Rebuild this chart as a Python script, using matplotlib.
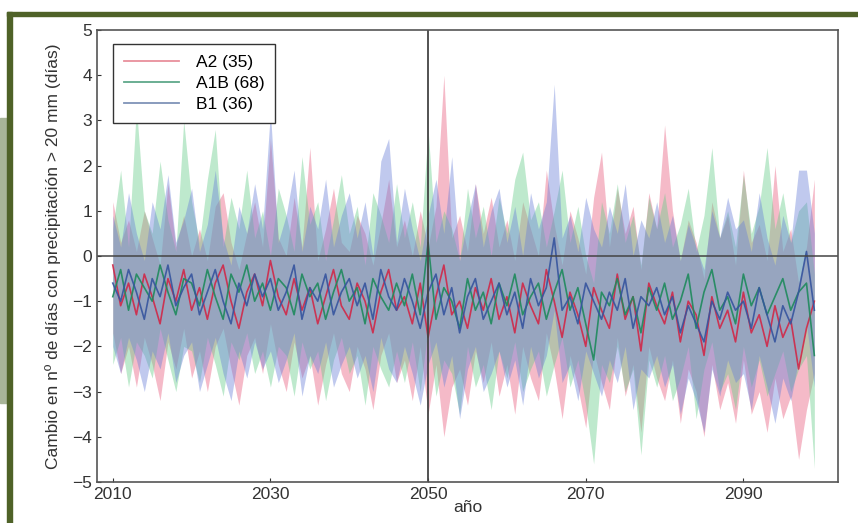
import numpy as np
import matplotlib.pyplot as plt
from matplotlib.patches import Rectangle

plt.rcParams['font.family'] = ['Liberation Sans', 'DejaVu Sans']

years = np.arange(2010, 2100)

labels = ['A2 (35)', 'A1B (68)', 'B1 (36)']

a2_mean = [-0.2, -1.1, -0.6, -1.3, -0.4, -0.9, -1.5, -0.5, -1.0, -0.3,
           -1.2, -0.7, -1.4, -0.6, -0.2, -1.0, -1.6, -0.8, -0.4, -1.1,
           -0.1, -0.9, -1.3, -0.5, -1.2, -0.7, -1.5, -0.9, -0.3, -1.1,
           -1.4, -0.6, -1.0, -1.7, -0.8, -0.3, -1.2, -0.9, -1.5, -0.6,
           -1.8, -0.9, -0.2, -1.3, -1.0, -1.6, -0.7, -1.2, -0.5, -1.4,
           -0.9, -1.7, -0.6, -1.1, -1.5, -0.3, -1.0, -1.8, -0.8, -1.3,
           -2.0, -0.7, -1.2, -1.6, -0.4, -1.4, -0.9, -2.1, -0.6, -1.1,
           -1.5, -0.8, -1.9, -1.0, -1.3, -2.2, -0.9, -1.6, -1.2, -1.9,
           -0.8, -1.7, -1.3, -2.0, -1.1, -1.8, -1.4, -2.5, -1.6, -1.0]
a2_hi = [1.2, 0.3, 0.8, 0.1, 1.0, 0.4, -0.2, 1.6, 0.2, 0.9,
         0.0, 0.6, -0.1, 1.1, 1.4, 0.3, -0.3, 0.5, 1.2, 0.2,
         2.6, 0.4, 0.0, 1.3, 0.2, 2.4, -0.1, 0.6, 1.5, 0.3,
         0.1, 0.9, 0.5, -0.2, 0.7, 1.7, 0.2, 0.8, 0.0, 1.0,
         0.2, 1.1, 4.0, 0.4, 0.9, 0.1, 1.6, 0.5, 1.3, 0.2,
         0.8, -0.1, 1.2, 0.6, 0.0, 1.9, 0.7, -0.2, 1.0, 0.4,
         -0.4, 1.3, 2.3, 0.2, 1.5, 0.5, 1.1, -0.3, 1.4, 0.6,
         2.9, 1.0, -0.1, 0.8, 0.3, -0.5, 1.2, 0.4, 0.9, -0.2,
         1.9, 0.3, 0.7, -0.1, 2.0, 0.1, 0.6, -0.6, 0.2, 1.7]
a2_lo = [-1.7, -2.6, -2.0, -2.9, -1.8, -2.4, -3.2, -1.9, -2.5, -1.6,
         -2.7, -2.1, -3.0, -2.0, -1.6, -2.5, -3.3, -2.2, -1.8, -2.6,
         -1.5, -2.4, -3.0, -1.9, -2.7, -2.2, -3.3, -2.4, -1.7, -2.6,
         -3.0, -2.0, -2.5, -3.4, -2.2, -1.7, -2.8, -2.3, -3.2, -2.0,
         -3.5, -2.4, -4.0, -2.9, -2.5, -3.3, -2.1, -2.8, -1.9, -3.1,
         -2.4, -3.5, -2.0, -2.7, -3.2, -1.7, -2.5, -3.6, -2.2, -2.9,
         -3.8, -2.1, -2.8, -3.4, -1.8, -3.1, -2.4, -3.9, -2.0, -2.7,
         -3.2, -2.3, -3.7, -2.5, -3.0, -4.0, -2.4, -3.4, -2.8, -3.7,
         -2.3, -3.5, -3.0, -3.9, -2.7, -3.6, -3.1, -4.5, -3.4, -2.6]

a1b_mean = [-0.9, -0.3, -1.2, -0.4, -0.7, -1.0, -0.2, -0.8, -1.3, -0.5,
            -0.6, -1.1, -0.3, -0.9, -1.4, -0.4, -0.8, -0.2, -1.0, -0.6,
            -1.2, -0.5, -0.7, -1.3, -0.4, -0.9, -0.6, -1.4, -0.8, -0.3,
            -1.0, -0.7, -1.5, -0.5, -0.9, -1.2, -0.6, -1.1, -0.4, -1.3,
            0.3, -1.4, -0.7, -1.0, -1.6, -0.5, -1.2, -0.8, -1.5, -0.6,
            -1.1, -0.4, -1.3, -0.9, -0.6, -1.4, -0.8, -0.3, -1.2, -0.7,
            -1.5, -2.3, -0.8, -1.1, -0.5, -1.3, -0.9, -1.7, -0.7, -1.2,
            -0.6, -1.4, -1.0, -0.4, -1.6, -0.8, -0.3, -1.2, -0.9, -1.5,
            -0.4, -1.1, -0.7, -1.3, -0.9, -0.5, -1.2, -0.8, -0.6, -2.2]
a1b_hi = [0.6, 1.9, 0.2, 3.3, 1.0, 0.5, 2.1, 0.8, 0.1, 3.0,
          1.2, 0.3, 1.7, 2.8, 0.2, 1.3, 0.6, 1.9, 0.4, 1.0,
          0.0, 1.5, 0.9, 0.1, 2.2, 0.7, 1.2, -0.1, 0.8, 1.8,
          0.5, 1.1, -0.2, 1.4, 0.9, 0.3, 1.6, 0.4, 1.2, 0.2,
          2.8, 0.3, 1.0, 0.6, -0.1, 1.5, 0.4, 1.1, 0.0, 1.3,
          0.5, 1.7, 2.3, 0.8, 1.2, 0.2, 1.0, 1.9, 0.3, 1.1,
          0.0, -0.6, 1.2, 0.5, 1.6, 0.3, 0.9, -0.2, 1.3, 0.6,
          1.4, 0.2, 0.7, 1.5, 0.1, 0.9, 2.4, 0.4, 1.0, 0.2,
          1.8, 0.5, 1.1, 2.4, 0.6, 1.4, 0.3, 1.0, 1.2, -0.4]
a1b_lo = [-2.4, -1.8, -2.9, -1.9, -2.2, -2.7, -1.6, -2.3, -3.0, -2.0,
          -2.1, -2.8, -1.8, -2.4, -3.1, -1.9, -2.3, -1.7, -2.6, -2.1,
          -2.9, -2.0, -2.2, -3.1, -1.9, -2.5, -2.1, -3.2, -2.3, -1.8,
          -2.6, -2.2, -3.3, -2.0, -2.5, -2.9, -2.1, -2.8, -1.9, -3.0,
          -1.6, -3.1, -2.3, -2.6, -3.5, -2.0, -2.9, -2.4, -3.4, -2.1,
          -2.7, -1.9, -3.0, -2.5, -2.1, -3.1, -2.4, -1.8, -2.9, -2.3,
          -3.3, -4.6, -2.4, -2.8, -2.0, -3.0, -2.5, -4.4, -2.3, -2.9,
          -2.2, -3.2, -2.7, -2.0, -3.6, -2.5, -1.9, -3.0, -2.6, -3.4,
          -2.0, -2.9, -2.3, -3.1, -2.6, -2.1, -3.0, -2.5, -2.2, -4.7]

b1_mean = [-0.6, -1.0, -0.3, -0.8, -1.4, -0.5, -0.9, -0.2, -1.1, -0.7,
           -0.4, -1.3, -0.8, -0.3, -1.0, -1.5, -0.6, -1.1, -0.4, -0.9,
           -0.5, -1.2, -0.8, -0.2, -1.4, -0.7, -1.0, -0.4, -1.3, -0.8,
           -0.5, -1.1, -0.6, -1.4, -0.3, -0.9, -1.2, -0.5, -1.0, -1.6,
           -0.8, -0.4, -1.3, -0.7, -1.7, -0.9, -0.5, -1.4, -1.0, -0.6,
           -1.3, -0.8, -1.6, -0.5, -1.1, -0.7, 0.4, -1.2, -0.9, -1.5,
           -0.6, -1.0, -1.4, -0.8, -1.2, -0.5, -1.6, -0.9, -1.1, -0.7,
           -1.3, -0.9, -1.7, -1.1, -1.5, -1.9, -1.0, -1.4, -0.8, -1.2,
           -1.0, -1.6, -0.7, -1.3, -1.9, -1.1, -1.5, -0.8, 0.1, -1.2]
b1_hi = [0.9, 0.2, 1.4, 0.5, -0.1, 1.2, 0.6, 1.8, 0.3, 0.8,
         1.5, 0.1, 0.7, 1.9, 0.4, -0.2, 1.1, 0.5, 1.6, 0.6,
         3.2, 0.3, 0.9, 1.9, 0.1, 1.1, 0.6, 1.7, 0.2, 0.9,
         1.4, 0.4, 1.2, 0.0, 2.1, 2.6, 0.3, 1.5, 0.6, -0.1,
         0.9, 1.7, 0.5, 2.2, -0.1, 0.8, 1.6, 0.2, 1.0, 1.5,
         0.3, 1.1, 0.0, 1.4, 0.6, 1.2, 3.8, 0.4, 0.9, 0.1,
         1.3, 0.6, 0.2, 1.1, 0.5, 1.6, 0.0, 0.8, 0.4, 1.2,
         0.3, 0.9, -0.1, 0.7, 0.2, -0.3, 1.0, 0.4, 1.3, 0.6,
         0.8, 0.1, 1.4, 0.4, -0.2, 0.9, 0.3, 1.9, 1.9, 0.5]
b1_lo = [-2.0, -2.6, -1.8, -2.3, -3.0, -2.1, -2.5, -1.7, -2.8, -2.2,
         -1.9, -3.0, -2.4, -1.8, -2.6, -3.2, -2.1, -2.7, -1.9, -2.5,
         -2.1, -2.8, -2.3, -1.7, -3.1, -2.2, -2.6, -1.9, -2.9, -2.4,
         -2.0, -2.7, -2.2, -3.0, -1.8, -2.5, -2.8, -2.0, -2.6, -3.3,
         -2.4, -1.9, -2.9, -2.2, -3.6, -2.5, -2.0, -3.0, -2.6, -2.1,
         -2.9, -2.3, -3.3, -2.0, -2.7, -2.2, -1.2, -2.8, -2.4, -3.2,
         -2.1, -2.6, -3.1, -2.3, -2.8, -2.0, -3.4, -2.5, -2.7, -2.2,
         -2.9, -2.4, -3.5, -2.7, -3.2, -3.9, -2.5, -3.1, -2.3, -2.8,
         -2.6, -3.4, -2.2, -2.9, -3.7, -2.7, -3.2, -2.3, -1.5, -2.9]

means = [a2_mean, a1b_mean, b1_mean]
highs = [a2_hi, a1b_hi, b1_hi]
lows = [a2_lo, a1b_lo, b1_lo]
band_colors = ['#e85c7e', '#66cc88', '#6a80d8']
line_colors = ['#d02848', '#1e8a5c', '#36549e']
legend_colors = ['#e8909c', '#5fa88a', '#7f93b8']

fig = plt.figure(figsize=(8.58, 5.23), dpi=100)

# slide decorations: grey block at the left edge and olive frame
fig.patches.append(Rectangle((0, 1 - 403 / 523), 8 / 858, 285 / 523,
                             transform=fig.transFigure, color='#a8b598', zorder=0))
fig.patches.append(Rectangle((7 / 858, 0), 5 / 858, 1 - 12 / 523,
                             transform=fig.transFigure, color='#4f6228', zorder=1))
fig.patches.append(Rectangle((7 / 858, 1 - 16 / 523), 1, 4 / 523,
                             transform=fig.transFigure, color='#4f6228', zorder=1))

ax = fig.add_axes([97 / 858, 1 - 482 / 523, 741 / 858, 452 / 523])

for lo, hi, c in zip(lows, highs, band_colors):
    ax.fill_between(years, lo, hi, color=c, alpha=0.42, linewidth=0)
for m, c in zip(means, line_colors):
    ax.plot(years, m, color=c, lw=1.2, alpha=0.9)

ax.axhline(0, color='#444444', lw=1.1)
ax.axvline(2050, color='#444444', lw=1.3)

handles = [plt.Line2D([], [], color=c, lw=1.3) for c in legend_colors]
leg = ax.legend(handles, labels, loc='upper left', fontsize=12.5, fancybox=False,
                framealpha=1, edgecolor='#333333', handlelength=3.2,
                borderpad=0.6, labelspacing=0.35, handletextpad=1.0,
                bbox_to_anchor=(0.01, 0.988))
leg.get_frame().set_linewidth(1.0)

ax.set_xlim(2008, 2102)
ax.set_ylim(-5, 5)
ax.set_xticks([2010, 2030, 2050, 2070, 2090])
ax.set_yticks(range(-5, 6))
ax.tick_params(labelsize=12.5, colors='#333333', length=3, direction='in')
for s in ax.spines.values():
    s.set_color('#555555')
    s.set_linewidth(1.2)

ax.set_xlabel('año', fontsize=12.5, color='#333333', labelpad=-1)
ax.set_ylabel('Cambio en nº de días con precipitación > 20 mm (días)',
              fontsize=12.5, color='#333333', labelpad=8)

fig.savefig('out.png', dpi=100)
